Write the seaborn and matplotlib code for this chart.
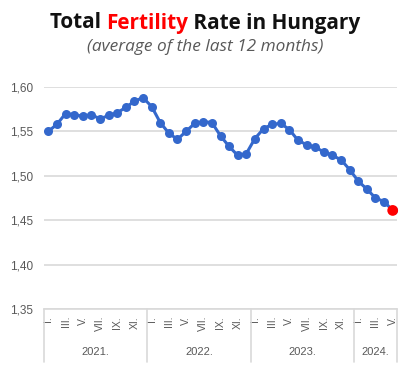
import matplotlib
matplotlib.use("Agg")
import matplotlib.pyplot as plt
import matplotlib.transforms as mtransforms
import seaborn as sns
import pandas as pd
import numpy as np

# ---- data ----
years = ["2021.", "2022.", "2023.", "2024."]
months_per_year = [12, 12, 12, 5]
roman = ["I.", "II.", "III.", "IV.", "V.", "VI.", "VII.", "VIII.", "IX.", "X.", "XI.", "XII."]
tfr_2021 = [1.550, 1.558, 1.570, 1.569, 1.567, 1.569, 1.564, 1.568, 1.571, 1.577, 1.584, 1.588]
tfr_2022 = [1.578, 1.560, 1.548, 1.541, 1.550, 1.559, 1.561, 1.560, 1.545, 1.533, 1.523, 1.525]
tfr_2023 = [1.542, 1.553, 1.558, 1.559, 1.552, 1.540, 1.535, 1.532, 1.527, 1.523, 1.518, 1.507]
tfr_2024 = [1.494, 1.485, 1.475, 1.471, 1.461]
yticks = [1.35, 1.40, 1.45, 1.50, 1.55, 1.60]

values = tfr_2021 + tfr_2022 + tfr_2023 + tfr_2024
month_lbl = []
for n in months_per_year:
    month_lbl += roman[:n]
df = pd.DataFrame({"pos": np.arange(len(values)), "tfr": values, "month": month_lbl})

sns.set_theme(style="white")
plt.rcParams["font.family"] = ["Liberation Sans", "DejaVu Sans"]

fig = plt.figure(figsize=(4.10, 3.67), dpi=100)
ax = fig.add_axes([44 / 410, 1 - 309 / 367, (397 - 44) / 410, (309 - 87) / 367])

blue = "#3468CC"
sns.lineplot(data=df, x="pos", y="tfr", ax=ax, color=blue, linewidth=2.2,
             marker="o", markersize=6.5, markeredgewidth=0, clip_on=False, zorder=3)
sns.scatterplot(data=df.iloc[[-1]], x="pos", y="tfr", ax=ax, color="#FF0000",
                s=60, edgecolor="none", zorder=4, clip_on=False)

ax.set_xlim(-0.5, len(values) - 0.5)
ax.set_ylim(yticks[0], yticks[-1])
ax.set_yticks(yticks)
ax.set_yticklabels([f"{v:.2f}".replace(".", ",") for v in yticks])
ax.yaxis.grid(True, color="#D9D9D9", linewidth=1.2)
ax.set_axisbelow(True)
for s in ["top", "left", "right"]:
    ax.spines[s].set_visible(False)
ax.spines["bottom"].set_color("#D9D9D9")
ax.spines["bottom"].set_linewidth(1.2)
ax.tick_params(axis="y", length=0, pad=8, labelsize=8.5, labelcolor="#595959")

odd = df[df["month"].isin(["I.", "III.", "V.", "VII.", "IX.", "XI."])]
ax.set_xticks(odd["pos"])
ax.set_xticklabels(odd["month"], rotation=90, va="top", ha="center")
ax.tick_params(axis="x", length=0, pad=5, labelsize=7.5, labelcolor="#595959")
ax.set_xlabel("")
ax.set_ylabel("")

trans = mtransforms.blended_transform_factory(ax.transData, ax.transAxes)
bounds = np.concatenate([[0], np.cumsum(months_per_year)]) - 0.5
for b in bounds:
    ax.plot([b, b], [0, -0.24], transform=trans, color="#D9D9D9", linewidth=1.2, clip_on=False)
for i, y in enumerate(years):
    c = (bounds[i] + bounds[i + 1]) / 2
    ax.text(c, -0.195, y, transform=trans, ha="center", va="center", fontsize=8, color="#595959")

# title with coloured word
parts = [("Total ", "#111111"), ("Fertility", "#FF0000"), (" Rate in Hungary", "#111111")]
fig.canvas.draw()
r = fig.canvas.get_renderer()
texts = []
for t, c in parts:
    tx = fig.text(0, 1 - 23 / 367, t, fontsize=14, fontweight="bold", color=c,
                  family=["Open Sans", "DejaVu Sans"], va="center", ha="left")
    texts.append(tx)
total = sum(tx.get_window_extent(r).width for tx in texts)
fs = 14 * 312 / total
for tx in texts:
    tx.set_fontsize(fs)
widths = [tx.get_window_extent(r).width for tx in texts]
x0 = (205 - sum(widths) / 2) / 410
for tx, w in zip(texts, widths):
    tx.set_x(x0)
    x0 += w / 410

sub = fig.text(205 / 410, 1 - 47 / 367, "(average of the last 12 months)", fontsize=10.5,
               style="italic", color="#595959", family=["Open Sans", "DejaVu Sans"],
               ha="center", va="center")
sw = sub.get_window_extent(r).width
sub.set_fontsize(10.5 * 236 / sw)

fig.savefig("out.png", dpi=100)
